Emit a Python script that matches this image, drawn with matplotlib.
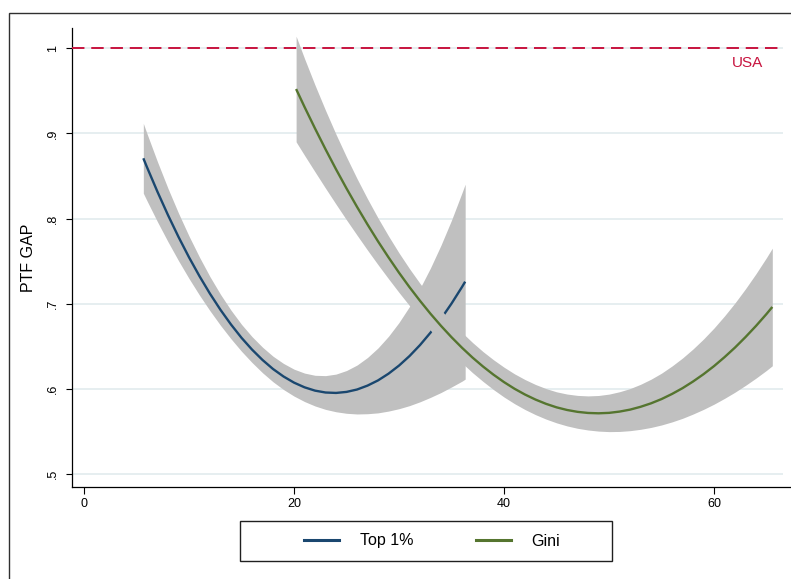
import matplotlib
matplotlib.use("Agg")
import matplotlib.pyplot as plt
from matplotlib.lines import Line2D
from matplotlib.patches import Rectangle

plt.rcParams['font.family'] = ['Liberation Sans', 'DejaVu Sans']

# Fitted PTF gap against the Top 1% share, with 95% band
x_top1 = [5.65, 6, 7, 8, 9, 10, 11, 12, 13, 14, 15, 16, 17, 18, 19, 20, 21,
          22, 23, 24, 25, 26, 27, 28, 29, 30, 31, 32, 33, 34, 35, 36, 36.3]
top1_fit = [0.8709, 0.8604, 0.8315, 0.8042, 0.7786, 0.7547, 0.7325, 0.7119,
            0.6930, 0.6758, 0.6602, 0.6464, 0.6342, 0.6236, 0.6148, 0.6076,
            0.6021, 0.5982, 0.5960, 0.5955, 0.5967, 0.5995, 0.6041, 0.6102,
            0.6181, 0.6276, 0.6388, 0.6517, 0.6663, 0.6825, 0.7004, 0.7199,
            0.7261]
top1_hi = [0.9119, 0.8998, 0.8667, 0.8355, 0.8065, 0.7796, 0.7548, 0.7319,
           0.7112, 0.6926, 0.6760, 0.6616, 0.6492, 0.6386, 0.6301, 0.6234,
           0.6188, 0.6162, 0.6158, 0.6176, 0.6218, 0.6282, 0.6371, 0.6483,
           0.6620, 0.6782, 0.6970, 0.7183, 0.7423, 0.7690, 0.7983, 0.8305,
           0.8405]
top1_lo = [0.8299, 0.8210, 0.7963, 0.7729, 0.7507, 0.7298, 0.7102, 0.6919,
           0.6748, 0.6590, 0.6444, 0.6312, 0.6192, 0.6086, 0.5995, 0.5918,
           0.5854, 0.5802, 0.5762, 0.5734, 0.5716, 0.5708, 0.5711, 0.5721,
           0.5742, 0.5770, 0.5806, 0.5851, 0.5903, 0.5960, 0.6025, 0.6093,
           0.6117]

# Fitted PTF gap against the Gini index, with 95% band
x_gini = [20.2, 21, 22, 23, 24, 25, 26, 27, 28, 29, 30, 31, 32, 33, 34, 35,
          36, 37, 38, 39, 40, 41, 42, 43, 44, 45, 46, 47, 48, 49, 50, 51, 52,
          53, 54, 55, 56, 57, 58, 59, 60, 61, 62, 63, 64, 65, 65.55]
gini_fit = [0.9522, 0.9312, 0.9059, 0.8815, 0.8580, 0.8355, 0.8139, 0.7932,
            0.7734, 0.7546, 0.7366, 0.7196, 0.7036, 0.6884, 0.6742, 0.6609,
            0.6485, 0.6370, 0.6265, 0.6169, 0.6082, 0.6004, 0.5936, 0.5877,
            0.5827, 0.5786, 0.5755, 0.5733, 0.5720, 0.5716, 0.5721, 0.5736,
            0.5759, 0.5792, 0.5833, 0.5883, 0.5943, 0.6011, 0.6089, 0.6175,
            0.6270, 0.6375, 0.6488, 0.6611, 0.6742, 0.6882, 0.6964]
gini_hi = [1.0142, 0.9880, 0.9568, 0.9272, 0.8990, 0.8724, 0.8471, 0.8233,
           0.8008, 0.7797, 0.7598, 0.7413, 0.7240, 0.7079, 0.6929, 0.6791,
           0.6664, 0.6547, 0.6440, 0.6344, 0.6257, 0.6179, 0.6112, 0.6054,
           0.6006, 0.5968, 0.5942, 0.5926, 0.5920, 0.5925, 0.5941, 0.5969,
           0.6006, 0.6056, 0.6116, 0.6187, 0.6271, 0.6365, 0.6471, 0.6588,
           0.6717, 0.6859, 0.7012, 0.7178, 0.7355, 0.7544, 0.7654]
gini_lo = [0.8902, 0.8744, 0.8550, 0.8358, 0.8170, 0.7986, 0.7807, 0.7631,
           0.7460, 0.7295, 0.7134, 0.6979, 0.6832, 0.6689, 0.6555, 0.6427,
           0.6306, 0.6193, 0.6090, 0.5994, 0.5907, 0.5829, 0.5760, 0.5700,
           0.5648, 0.5604, 0.5568, 0.5540, 0.5520, 0.5507, 0.5501, 0.5503,
           0.5512, 0.5528, 0.5550, 0.5579, 0.5615, 0.5657, 0.5707, 0.5762,
           0.5823, 0.5891, 0.5964, 0.6044, 0.6129, 0.6220, 0.6274]

usa_level = 1.0
y_ticks = [0.5, 0.6, 0.7, 0.8, 0.9, 1.0]
y_ticklabels = ['.5', '.6', '.7', '.8', '.9', '1']
x_ticks = [0, 20, 40, 60]
x_ticklabels = ['0', '20', '40', '60']

NAVY = '#1a476f'
GREEN = '#55752f'
BAND = '#c0c0c0'
RED = '#c8143f'
GRID = '#e4edef'

W, H = 791, 579
fig = plt.figure(figsize=(W / 100, H / 100), dpi=100)
fig.patch.set_facecolor('white')

ax_left, ax_bottom = 72 / W, (H - 487) / H
ax = fig.add_axes([ax_left, ax_bottom, 1 - ax_left, (487 - 28) / H])
ax.set_xlim(-1.143, 67.33)
ax.set_ylim(0.4851, 1.0238)
grid_end = 66.57

for yt in y_ticks:
    ax.hlines(yt, -1.143, grid_end, color=GRID, lw=1.3, zorder=0.5)

ax.fill_between(x_top1, top1_lo, top1_hi, color=BAND, lw=0, zorder=1)
ax.plot(x_top1, top1_fit, color=NAVY, lw=1.7, zorder=2, solid_capstyle='butt')
ax.fill_between(x_gini, gini_lo, gini_hi, color=BAND, lw=0, zorder=3)
ax.plot(x_gini, gini_fit, color=GREEN, lw=1.7, zorder=4, solid_capstyle='butt')

ax.hlines(usa_level, -1.143, grid_end, color=RED, lw=1.4,
          linestyles=(0, (6.4, 3.5)), zorder=5)
ax.text(63.2, 0.983, 'USA', color=RED, fontsize=11, ha='center', va='center')

for side in ('top', 'right'):
    ax.spines[side].set_visible(False)
for side in ('left', 'bottom'):
    ax.spines[side].set_linewidth(0.9)

ax.set_yticks(y_ticks)
ax.set_yticklabels(y_ticklabels, rotation=90, va='center', fontsize=9)
ax.set_xticks(x_ticks)
ax.set_xticklabels(x_ticklabels, fontsize=9)
ax.tick_params(axis='y', direction='out', length=4.5, width=0.8, pad=5)
ax.tick_params(axis='x', direction='out', length=5, width=0.8, pad=3)
ax.set_ylabel('PTF GAP', fontsize=11.5)
ax.yaxis.set_label_coords(-0.050, 0.5)

# Outer graph frame
fig.add_artist(Rectangle((8.5 / W, -0.2), 1.3, 1 - 12.5 / H + 0.2,
                         transform=fig.transFigure, fill=False,
                         ec='#303030', lw=1.0))

# Legend box below the plot
fig.add_artist(Rectangle((240 / W, (H - 561) / H), 372 / W, 40 / H,
                         transform=fig.transFigure, fill=False,
                         ec='#202020', lw=1.0))
handles = [Line2D([], [], color=NAVY, lw=2.2),
           Line2D([], [], color=GREEN, lw=2.2)]
fig.legend(handles, ['Top 1%', 'Gini'], loc='center',
           bbox_to_anchor=(432 / W, (H - 541) / H), ncol=2, frameon=False,
           fontsize=11.5, handlelength=2.2, handletextpad=1.3,
           columnspacing=3.9)

fig.savefig('out.png', dpi=100, facecolor='white')
